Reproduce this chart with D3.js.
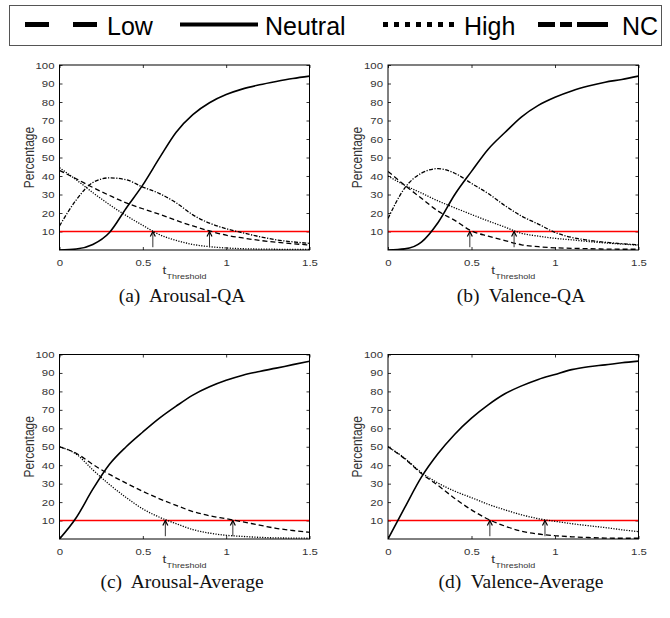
<!DOCTYPE html>
<html>
<head>
<meta charset="utf-8">
<script src="https://cdn.jsdelivr.net/npm/d3@7"></script>
<style>
  body { margin: 0; background: #fff; }
  svg { display: block; }
</style>
</head>
<body>
<svg id="chart" width="670" height="618"></svg>
<script>
const tGrid = [0, 0.1, 0.2, 0.3, 0.4, 0.5, 0.6, 0.7, 0.8, 0.9, 1.0, 1.1, 1.2, 1.3, 1.4, 1.5];

const seriesNames = ["Low", "Neutral", "High", "NC"];

// (a) Arousal-QA
const arousalQA_low     = [43, 38.5, 33.8, 29.5, 25.5, 22.3, 19.3, 16, 13, 10.3, 8, 6.5, 5.2, 4.2, 3.4, 2.7];
const arousalQA_neutral = [0, 0.5, 3, 9.5, 22.6, 35.2, 49.8, 63.7, 73.2, 79.6, 84, 87.1, 89.3, 91.1, 92.7, 94];
const arousalQA_high    = [44.5, 38, 31, 24.5, 18.6, 13.3, 8.3, 5.2, 3, 1.8, 1.1, 0.7, 0.5, 0.4, 0.3, 0.3];
const arousalQA_nc      = [13, 27, 36.5, 39, 38, 34, 30.5, 25.5, 19, 14.5, 11.5, 9.3, 7.2, 5.5, 4.4, 3.6];
const arousalQA_arrows  = [0.56, 0.9];

// (b) Valence-QA
const valenceQA_low     = [42.5, 35, 28, 21, 16, 10.3, 7.5, 5.1, 2.8, 1.8, 1.2, 0.9, 0.7, 0.5, 0.4, 0.4];
const valenceQA_neutral = [0, 0.6, 4.3, 14.9, 30, 42.5, 54.5, 63.5, 72, 78.2, 82.6, 86, 88.6, 90.7, 92.2, 94];
const valenceQA_high    = [40, 35, 30.8, 26.5, 22.8, 19.2, 15.7, 12.4, 9, 7.5, 6.3, 5.5, 4.6, 3.8, 3.2, 2.6];
const valenceQA_nc      = [17, 33.5, 41.5, 44, 41.5, 36, 30.5, 24, 18.3, 14, 9.5, 6.8, 5.3, 4.2, 3.4, 2.8];
const valenceQA_arrows  = [0.49, 0.755];

// (c) Arousal-Average
const arousalAvg_low     = [50, 46.5, 40.4, 35, 30.3, 25.8, 21.8, 18.2, 14.9, 12.6, 11, 9.3, 7.5, 5.8, 4.6, 3.6];
const arousalAvg_neutral = [0, 11.5, 27, 40.5, 50, 58, 65.5, 72, 78, 82.5, 86, 88.8, 90.8, 92.6, 94.5, 96.3];
const arousalAvg_high    = [50, 46, 37.5, 29.5, 22.5, 16.3, 11.8, 8.3, 5.1, 3.2, 2, 1.4, 0.9, 0.6, 0.5, 0.4];
const arousalAvg_arrows  = [0.635, 1.04];

// (d) Valence-Average
const valenceAvg_low     = [50, 43.5, 35.5, 29, 22, 15.8, 10.7, 7, 4.2, 2.7, 1.8, 1.2, 0.8, 0.5, 0.4, 0.4];
const valenceAvg_neutral = [0, 17, 33.5, 46.3, 56.8, 65.5, 72.7, 78.7, 83, 86.5, 89.2, 91.8, 93.4, 94.4, 95.5, 96.4];
const valenceAvg_high    = [50, 43.8, 36, 30.3, 25.9, 22.4, 18.8, 15.8, 13.1, 11, 9.6, 8.3, 7.2, 6.2, 5, 4];
const valenceAvg_arrows  = [0.61, 0.94];

const xTicks = [0, 0.5, 1, 1.5];
const yTicks = [10, 20, 30, 40, 50, 60, 70, 80, 90, 100];
const redLevel = 10;

const captions = ["(a)  Arousal-QA", "(b)  Valence-QA", "(c)  Arousal-Average", "(d)  Valence-Average"];

const panels = [
  { box: [59.5, 309.5, 65, 250], cap: [182, 302], caption: captions[0], arrows: arousalQA_arrows,
    series: { Low: arousalQA_low, Neutral: arousalQA_neutral, High: arousalQA_high, NC: arousalQA_nc } },
  { box: [388, 638.5, 65, 250], cap: [521, 302], caption: captions[1], arrows: valenceQA_arrows,
    series: { Low: valenceQA_low, Neutral: valenceQA_neutral, High: valenceQA_high, NC: valenceQA_nc } },
  { box: [59.5, 309.5, 354.5, 539], cap: [182, 588], caption: captions[2], arrows: arousalAvg_arrows,
    series: { Low: arousalAvg_low, Neutral: arousalAvg_neutral, High: arousalAvg_high } },
  { box: [388, 638.5, 354.5, 539], cap: [521, 588], caption: captions[3], arrows: valenceAvg_arrows,
    series: { Low: valenceAvg_low, Neutral: valenceAvg_neutral, High: valenceAvg_high } }
];

const lineStyle = {
  Low:     { dash: "5,3", width: 1.3 },
  Neutral: { dash: null, width: 1.6 },
  High:    { dash: "1.2,1.4", width: 1.3 },
  NC:      { dash: "4,1.5,1.2,1.5", width: 1.3 }
};

const sans = "'Liberation Sans', Arial, Helvetica, sans-serif";
const sx = 1.2; // the panels are a bit stretched sideways

const svg = d3.select("#chart");

// ---- legend ----
const legend = svg.append("g");
legend.append("rect")
  .attr("x", 9.5).attr("y", 5.5).attr("width", 652).attr("height", 40)
  .attr("fill", "#fff").attr("stroke", "#555").attr("stroke-width", 1);

const legendItems = [
  { name: "Low", x1: 25, x2: 97, tx: 107, dash: "24,24", w: 5 },
  { name: "Neutral", x1: 180, x2: 258, tx: 265, dash: null, w: 4 },
  { name: "High", x1: 383, x2: 460, tx: 464, dash: "5,6", w: 5 },
  { name: "NC", x1: 538, x2: 608, tx: 622, dash: "17,5,12,5,31", w: 5 }
];
legendItems.forEach(it => {
  legend.append("line")
    .attr("x1", it.x1).attr("x2", it.x2).attr("y1", 24.5).attr("y2", 24.5)
    .attr("stroke", "#000").attr("stroke-width", it.w)
    .attr("stroke-dasharray", it.dash);
  legend.append("text")
    .attr("x", it.tx).attr("y", 35)
    .attr("font-family", sans).attr("font-size", 25)
    .attr("fill", "#000")
    .text(it.name);
});

// ---- panels ----
panels.forEach((p, i) => {
  const [x0, x1, y0, y1] = p.box;
  const x = d3.scaleLinear().domain([0, 1.5]).range([x0, x1]);
  const y = d3.scaleLinear().domain([0, 100]).range([y1, y0]);
  const g = svg.append("g");

  const clipId = "clip" + i;
  g.append("clipPath").attr("id", clipId)
    .append("rect").attr("x", x0).attr("y", y0).attr("width", x1 - x0).attr("height", y1 - y0);

  // ticks on all four sides, pointing in
  const tickFmt = d => String(d);
  const left = g.append("g").attr("transform", `translate(${x0},0)`)
    .call(d3.axisLeft(y).tickValues(yTicks).tickSizeInner(-3).tickSizeOuter(0).tickPadding(5).tickFormat(tickFmt));
  const right = g.append("g").attr("transform", `translate(${x1},0)`)
    .call(d3.axisRight(y).tickValues(yTicks).tickSizeInner(-3).tickSizeOuter(0).tickFormat(""));
  const bottom = g.append("g").attr("transform", `translate(0,${y1})`)
    .call(d3.axisBottom(x).tickValues(xTicks).tickSizeInner(-3).tickSizeOuter(0).tickPadding(9).tickFormat(tickFmt));
  const top = g.append("g").attr("transform", `translate(0,${y0})`)
    .call(d3.axisTop(x).tickValues(xTicks).tickSizeInner(-3).tickSizeOuter(0).tickFormat(""));

  [left, right, bottom, top].forEach(a => {
    a.select(".domain").remove();
    a.selectAll("line").attr("stroke", "#000").attr("stroke-width", 0.8);
    a.selectAll("text")
      .attr("font-family", sans).attr("font-size", 9.5).attr("fill", "#333");
  });
  left.selectAll("text").attr("x", null)
    .attr("transform", `translate(-5,0) scale(${sx},1)`);
  bottom.selectAll("text")
    .attr("transform", `scale(${sx},1)`)
    .attr("x", 0);

  // red reference line
  g.append("line")
    .attr("x1", x(0)).attr("x2", x(1.5)).attr("y1", y(redLevel)).attr("y2", y(redLevel))
    .attr("stroke", "#ff0000").attr("stroke-width", 1.5);

  const line = d3.line()
    .x((d, k) => x(tGrid[k]))
    .y(d => y(d))
    .curve(d3.curveMonotoneX);

  seriesNames.forEach(name => {
    const vals = p.series[name];
    if (!vals) return;
    g.append("path")
      .datum(vals)
      .attr("clip-path", `url(#${clipId})`)
      .attr("d", line)
      .attr("fill", "none")
      .attr("stroke", "#000")
      .attr("stroke-width", lineStyle[name].width)
      .attr("stroke-dasharray", lineStyle[name].dash);
  });

  // arrows pointing at the 10% crossing
  p.arrows.forEach(t => {
    const ax = x(t);
    g.append("line")
      .attr("x1", ax).attr("x2", ax).attr("y1", y(1.5)).attr("y2", y(redLevel))
      .attr("stroke", "#333").attr("stroke-width", 1);
    g.append("path")
      .attr("d", `M${ax - 2.5},${y(redLevel) + 5} L${ax},${y(redLevel)} L${ax + 2.5},${y(redLevel) + 5}`)
      .attr("fill", "none").attr("stroke", "#000").attr("stroke-width", 1.2);
  });

  // frame
  g.append("rect")
    .attr("x", x0).attr("y", y0).attr("width", x1 - x0).attr("height", y1 - y0)
    .attr("fill", "none").attr("stroke", "#000").attr("stroke-width", 1);

  // y label
  g.append("text")
    .attr("transform", `translate(${x0 - 26},${(y0 + y1) / 2}) scale(${sx},1) rotate(-90)`)
    .attr("text-anchor", "middle")
    .attr("font-family", sans).attr("font-size", 12).attr("fill", "#333")
    .text("Percentage");

  // x label with subscript
  const xl = g.append("text")
    .attr("transform", `translate(${(x0 + x1) / 2},${y1 + 24}) scale(${sx},1)`)
    .attr("text-anchor", "middle")
    .attr("font-family", sans).attr("fill", "#333");
  xl.append("tspan").attr("font-size", 11.5).text("t");
  xl.append("tspan").attr("font-size", 7.5).attr("dy", 5).text("Threshold");

  // caption
  g.append("text")
    .attr("x", p.cap[0]).attr("y", p.cap[1])
    .attr("text-anchor", "middle")
    .attr("font-family", "'Liberation Serif', 'Times New Roman', serif")
    .attr("font-size", 19.5).attr("fill", "#111")
    .style("white-space", "pre")
    .text(p.caption);
});
</script>
</body>
</html>
